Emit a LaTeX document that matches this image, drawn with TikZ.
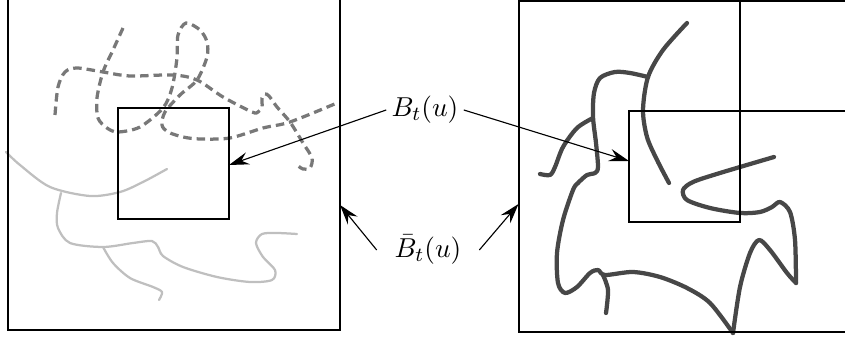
\documentclass[tikz,border=0pt]{standalone}
\usetikzlibrary{arrows.meta}
\begin{document}
\begin{tikzpicture}[x=0.4pt,y=-0.4pt]

      \tikzset{square/.style={draw, line width=0.8pt},
               pointer/.style={-{Stealth[length=8pt,width=5pt,inset=2.8pt]}, line width=0.45pt},
               tag/.style={inner sep=2pt, font=\fontsize{11}{13}\selectfont},
               lightpath/.style={line width=0.9pt, color=black!25, line cap=round, line join=round},
               dashpath/.style={line width=1.3pt, color=black!53, dash pattern=on 3.4pt off 2pt},
               darkpath/.style={line width=1.7pt, color=black!72, line cap=round, line join=round}}

      \useasboundingbox (0,0) rectangle (845,338);
      \clip (0,0) rectangle (845,338);
% Curves
	%Venstre boks
		\draw[dashpath] plot[smooth] coordinates {(55,115) (58,87) (65,72) (77,68) (103,72) (130,76) (173,75) (197,80) (223,97) (252,112) (258,112) (262,107) (262,98) (265,94) (269,96) (277,107) (290,122) (303,143) (312,158) (310,168) (303,169) (297,165)};
		\draw[dashpath] plot[smooth] coordinates {(123,28) (113,50) (103,72) (97,98) (98,118) (107,128) (118,132) (140,127) (163,108) (172,88) (177,58) (178,35) (186,23) (200,30) (207,42) (207,57) (197,80) (180,95) (165,112) (162,125) (168,132) (183,137) (200,139) (230,138) (263,128) (290,122) (337,103)};
		\draw[lightpath] plot[smooth] coordinates {(6,152) (20,165) (50,187) (90,196) (120,192) (143,182) (167,169)};
		\draw[lightpath] plot[smooth] coordinates {(61,193) (57,213) (58,228) (70,243) (103,247) (133,243) (152,241) (158,247) (163,256) (183,267) (217,277) (250,282) (272,280) (275,270) (263,257) (256,243) (262,234) (277,233) (297,234)};
		\draw[lightpath] plot[smooth] coordinates {(103,247) (113,263) (130,278) (153,287) (162,292) (159,300)};
	%Hoejre boks
		\draw[darkpath] plot[smooth] coordinates {(687,23) (663,50) (648,77) (643,110) (647,137) (657,160) (669,183)};
		\draw[darkpath] plot[smooth] coordinates {(648,77) (630,73) (615,72) (600,78) (594,93) (593,117) (596,143) (598,167) (595,173) (587,175) (578,183) (573,190) (563,220) (557,253) (558,283) (565,293) (577,287) (590,273) (598,270) (605,275) (633,272) (660,277) (687,288) (710,303) (733,333)};
		\draw[darkpath] plot[smooth] coordinates {(733,333) (740,287) (750,253) (759,240) (770,250) (787,273) (796,283)};
		\draw[darkpath] plot[smooth] coordinates {(796,283) (795,240) (790,212) (780,202) (772,207) (760,212) (740,213) (710,208) (687,200) (683,190) (693,182) (720,173) (774,157)};
		\draw[darkpath] plot[smooth] coordinates {(593,118) (577,128) (563,147) (555,167) (550,175) (540,174)};
		\draw[darkpath] plot[smooth] coordinates {(603,275) (608,290) (606,313)};
% Boxes
		\draw[square] (7.5,-5) rectangle (340,330);
		\draw[square] (118,108) rectangle (229,219);
		\draw[square] (518.5,1) rectangle (852,332.5);
		\draw[square] (629,111) rectangle (740,222);
		\draw[square] (740,1) -- (740,111) -- (850,111);
% Labels
		\node[tag] (Bt) at (425,110) {$B_t(u)$};
		\node[tag, inner xsep=7pt] (Bbar) at (428,250) {$\bar{B}_t(u)$};
		\coordinate (lin) at (229,165);
		\coordinate (rin) at (629,161);
		\coordinate (lout) at (340,205);
		\coordinate (rout) at (518.5,204);
% Arrows
		\draw[pointer] (Bt.west) -- (lin);
		\draw[pointer] (Bt.east) -- (rin);
		\draw[pointer] (Bbar.west) -- (lout);
		\draw[pointer] (Bbar.east) -- (rout);

	\end{tikzpicture}
\end{document}
